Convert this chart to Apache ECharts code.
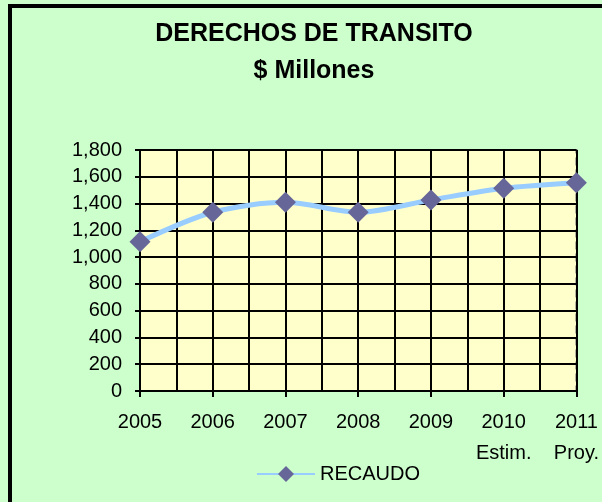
<!DOCTYPE html>
<html>
<head>
<meta charset="utf-8">
<script src="https://cdn.jsdelivr.net/npm/echarts@6/dist/echarts.min.js"></script>
<style>
  html, body { margin: 0; padding: 0; background: #ccffcc; }
  #main { width: 602px; height: 502px; }
</style>
</head>
<body>
<div id="main"></div>
<script>
// datos
const years = ["2005", "2006", "2007", "2008", "2009", "2010", "2011"];
const yearNotes = ["", "", "", "", "", "Estim.", "Proy."];
const halfSteps = ["0", "0.5", "1", "1.5", "2", "2.5", "3", "3.5", "4", "4.5", "5", "5.5", "6"];
const recaudo = [1115, 1335, 1409, 1335, 1427, 1514, 1556];
const seriesName = "RECAUDO";

const font = "Liberation Sans, Arial, sans-serif";
const myChart = echarts.init(document.getElementById("main"));

const option = {
  backgroundColor: "#ccffcc",
  animation: false,
  title: {
    text: "DERECHOS DE TRANSITO\n$ Millones",
    left: 309,
    textAlign: "center",
    top: 11,
    textStyle: {
      fontFamily: font,
      fontSize: 25,
      fontWeight: "bold",
      color: "#000",
      lineHeight: 37
    }
  },
  grid: {
    left: 140,
    right: 23,
    top: 150,
    bottom: 111,
    show: true,
    backgroundColor: "#ffffcc",
    borderColor: "#808080",
    borderWidth: 2,
    borderType: "dashed"
  },
  legend: {
    data: [seriesName],
    left: 251,
    top: 459,
    itemWidth: 58,
    itemHeight: 20,
    itemGap: 6,
    textStyle: {
      fontFamily: font,
      fontSize: 20,
      color: "#000"
    }
  },
  xAxis: [
    {
      type: "category",
      data: years,
      boundaryGap: false,
      axisLine: { lineStyle: { color: "#000", width: 2 } },
      axisTick: { show: true, length: 6, lineStyle: { color: "#000", width: 2 } },
      splitLine: { show: false },
      axisLabel: {
        fontFamily: font,
        fontSize: 20,
        color: "#000",
        margin: 16,
        lineHeight: 31,
        verticalAlign: "top",
        formatter: function (v, i) {
          return yearNotes[i] ? v + "\n" + yearNotes[i] : v;
        }
      }
    },
    {
      // rejilla de medio año
      type: "category",
      data: halfSteps,
      boundaryGap: false,
      position: "bottom",
      axisLine: { show: false },
      axisTick: { show: false },
      axisLabel: { show: false },
      splitLine: { show: true, lineStyle: { color: "#000", width: 2 } }
    }
  ],
  yAxis: {
    type: "value",
    min: 0,
    max: 1800,
    interval: 200,
    axisLine: { show: true, lineStyle: { color: "#000", width: 2 } },
    axisTick: { show: true, length: 5, lineStyle: { color: "#000", width: 2 } },
    axisLabel: {
      fontFamily: font,
      fontSize: 20,
      color: "#000",
      margin: 18,
      formatter: function (v) {
        return v.toLocaleString("en-US");
      }
    },
    splitLine: { show: true, lineStyle: { color: "#000", width: 2 } }
  },
  series: [
    {
      name: seriesName,
      type: "line",
      xAxisIndex: 0,
      data: recaudo,
      smooth: 0.3,
      symbol: "diamond",
      symbolSize: 21,
      lineStyle: { color: "#99ccff", width: 5 },
      itemStyle: { color: "#666699" },
      z: 5
    }
  ],
  graphic: [
    {
      type: "rect",
      shape: { x: 10, y: 6, width: 640, height: 560 },
      style: { fill: null, stroke: "#000", lineWidth: 4 },
      silent: true
    }
  ]
};

myChart.setOption(option);
</script>
</body>
</html>
